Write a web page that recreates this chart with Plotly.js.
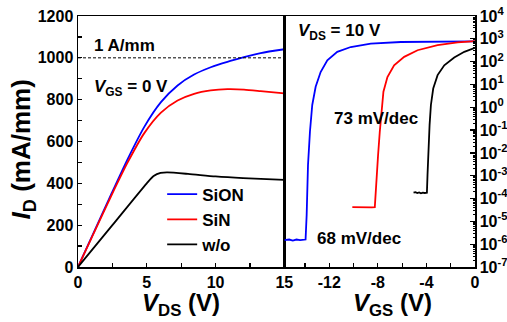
<!DOCTYPE html>
<html>
<head>
<meta charset="utf-8">
<script src="https://cdn.plot.ly/plotly-3.0.1.min.js"></script>
<style>html,body{margin:0;padding:0;background:#fff;}#chart{width:507px;height:322px;}</style>
</head>
<body>
<div id="chart"></div>
<script>
// ---- Output characteristics (VGS = 0 V) ----
const vdsSiON = [0, 1.19, 2.4, 3.61, 4.82, 6.03, 7.24, 8.44, 9.65, 10.86, 12.07, 13.28, 15];
const idSiON  = [0, 172, 346, 516, 670, 788, 868, 920, 955, 981, 1003, 1023, 1041];
const vdsSiN  = [0, 1.19, 2.4, 3.61, 4.82, 6.03, 7.24, 8.44, 9.65, 10.86, 12.07, 13.28, 15];
const idSiN   = [0, 168, 338, 500, 640, 738, 796, 828, 844, 850, 848, 841, 830];
const vdsWo   = [0, 2.5, 5, 5.5, 6, 6.5, 8, 10, 12, 15];
const idWo    = [0, 200, 400, 435, 450, 452, 445, 433, 425, 417];
const refCurrent = 1000; // 1 A/mm reference line

// ---- Transfer characteristics (VDS = 10 V) ----
const vgsSiON = [-15.7, -15.3, -15.0, -14.7, -14.4, -14.1, -13.95, -13.86, -13.75, -13.59, -13.4, -13.12, -12.71, -12.16, -11.34, -10.23, -8.58, -6.1, -3, 0];
const idtSiON = [1.5e-6, 1.6e-6, 1.45e-6, 1.6e-6, 1.5e-6, 1.55e-6, 1.6e-6, 1.95e-5, 2.95e-3, 0.085, 1.26, 7.9, 35, 115, 270, 437, 617, 724, 760, 776];
const vgsSiN  = [-10.1, -9.7, -9.3, -8.9, -8.5, -8.25, -8.14, -7.98, -7.84, -7.7, -7.54, -7.21, -6.66, -5.83, -4.73, -3.08, -1.43, 0];
const idtSiN  = [4.2e-5, 4.1e-5, 4.2e-5, 4.2e-5, 4.1e-5, 4.2e-5, 5.5e-4, 8.1e-3, 0.085, 0.89, 4.8, 21, 69, 162, 316, 525, 692, 794];
const vgsWo   = [-5.06, -4.9, -4.75, -4.6, -4.45, -4.3, -4.15, -3.96, -3.91, -3.83, -3.74, -3.63, -3.44, -3.08, -2.53, -1.71, -0.88, 0];
const idtWo   = [1.8e-4, 1.9e-4, 1.75e-4, 1.85e-4, 1.7e-4, 1.8e-4, 1.75e-4, 1.8e-4, 1.07e-3, 0.0158, 0.166, 1.26, 6.6, 25.7, 69, 151, 269, 400];

const vgsTickVals = [-12, -8, -4, 0];
const vgsTickText = ['-12', '-8', '-4', '0'];
const logExps = [-7, -6, -5, -4, -3, -2, -1, 0, 1, 2, 3, 4];
const logTickVals = logExps.map(e => Math.pow(10, e));
const logTickText = logExps.map(e => '10<sup>' + (e < 0 ? '-' : '') + Math.abs(e) + '</sup>');

const FONT = 'Liberation Sans, Arial, sans-serif';
const names = ['SiON', 'SiN', 'w/o'];
const colors = ['#0000ff', '#ff0000', '#000000'];

const outX = [vdsSiON, vdsSiN, vdsWo], outY = [idSiON, idSiN, idWo];
const trX = [vgsSiON, vgsSiN, vgsWo], trY = [idtSiON, idtSiN, idtWo];

const traces = [];
for (let i = 0; i < 3; i++) {
  traces.push({x: outX[i], y: outY[i], name: names[i], type: 'scatter', mode: 'lines',
    line: {color: colors[i], width: 1.8, shape: 'spline', smoothing: 0.7}, xaxis: 'x', yaxis: 'y'});
}
for (let i = 0; i < 3; i++) {
  traces.push({x: trX[i], y: trY[i], name: names[i], type: 'scatter', mode: 'lines', showlegend: false,
    line: {color: colors[i], width: 1.8}, xaxis: 'x2', yaxis: 'y2'});
}

const split = 0.5197;
const tickfont = {family: FONT, size: 16, color: '#000', weight: 'bold'};
const axBase = {showline: true, linecolor: '#000', linewidth: 1.5, mirror: true, ticks: 'inside',
  ticklen: 4, tickwidth: 1.2, tickcolor: '#000', showgrid: false, zeroline: false, tickfont: tickfont};

const layout = {
  width: 507, height: 322,
  margin: {l: 78, r: 32, t: 16, b: 55, pad: 0},
  paper_bgcolor: '#fff', plot_bgcolor: '#fff',
  font: {family: FONT, size: 16, color: '#000', weight: 'bold'},
  showlegend: true,
  legend: {x: 0.212, y: 0.36, xanchor: 'left', yanchor: 'top', bgcolor: 'rgba(0,0,0,0)',
    font: {family: FONT, size: 17, color: '#000', weight: 'bold'}, tracegroupgap: 0},
  xaxis: Object.assign({}, axBase, {domain: [0, split], range: [0, 15], dtick: 5, tick0: 0,
    minor: {dtick: 2.5, tick0: 0, ticks: 'inside', ticklen: 4, tickcolor: '#000', tickwidth: 1.2}, anchor: 'y'}),
  yaxis: Object.assign({}, axBase, {domain: [0, 1], range: [0, 1200], dtick: 200, tick0: 0,
    minor: {dtick: 100, tick0: 0, ticks: 'inside', ticklen: 4, tickcolor: '#000', tickwidth: 1.2}, anchor: 'x'}),
  xaxis2: Object.assign({}, axBase, {domain: [split, 1], range: [-15.7, 0], tickmode: 'array',
    tickvals: vgsTickVals, ticktext: vgsTickText,
    minor: {dtick: 2, tick0: 0, ticks: 'inside', ticklen: 4, tickcolor: '#000', tickwidth: 1.2}, anchor: 'y2'}),
  yaxis2: Object.assign({}, axBase, {domain: [0, 1], type: 'log', range: [-7, 4], side: 'right',
    tickmode: 'array', tickvals: logTickVals, ticktext: logTickText, ticklen: 5,
    minor: {dtick: 'D1', ticks: 'inside', ticklen: 2.5, tickcolor: '#000', tickwidth: 1}, anchor: 'x2'}),
  shapes: [{type: 'line', xref: 'x', yref: 'y', x0: 0, x1: 15, y0: refCurrent, y1: refCurrent,
    line: {color: '#000', width: 1, dash: '3px,2px'}}],
  annotations: [
    {xref: 'paper', yref: 'paper', x: 0.2607, y: -0.15, xanchor: 'center', yanchor: 'middle', showarrow: false,
      text: '<i>V</i><sub>DS</sub> (V)', font: {family: FONT, size: 24, weight: 'bold'}},
    {xref: 'paper', yref: 'paper', x: 0.793, y: -0.15, xanchor: 'center', yanchor: 'middle', showarrow: false,
      text: '<i>V</i><sub>GS</sub> (V)', font: {family: FONT, size: 24, weight: 'bold'}},
    {xref: 'paper', yref: 'paper', x: -0.14, y: 0.47, xanchor: 'center', yanchor: 'middle', showarrow: false,
      textangle: -90, text: '<i>I</i><sub>D</sub> (mA/mm)', font: {family: FONT, size: 26, weight: 'bold'}},
    {xref: 'x', yref: 'y', x: 1.0, y: 1060, xanchor: 'left', yanchor: 'middle', showarrow: false,
      text: '1 A/mm', font: {family: FONT, size: 17, weight: 'bold'}},
    {xref: 'x', yref: 'y', x: 1.0, y: 858, xanchor: 'left', yanchor: 'middle', showarrow: false,
      text: '<i>V</i><sub>GS</sub> = 0 V', font: {family: FONT, size: 17, weight: 'bold'}},
    {xref: 'x2', yref: 'y2', x: -14.75, y: 3.3, xanchor: 'left', yanchor: 'middle', showarrow: false,
      text: '<i>V</i><sub>DS</sub> = 10 V', font: {family: FONT, size: 17, weight: 'bold'}},
    {xref: 'x2', yref: 'y2', x: -11.8, y: -0.47, xanchor: 'left', yanchor: 'middle', showarrow: false,
      text: '73 mV/dec', font: {family: FONT, size: 17, weight: 'bold'}},
    {xref: 'x2', yref: 'y2', x: -13.15, y: -5.76, xanchor: 'left', yanchor: 'middle', showarrow: false,
      text: '68 mV/dec', font: {family: FONT, size: 17, weight: 'bold'}}
  ]
};

Plotly.newPlot('chart', traces, layout, {displayModeBar: false, staticPlot: true});
</script>
</body>
</html>
